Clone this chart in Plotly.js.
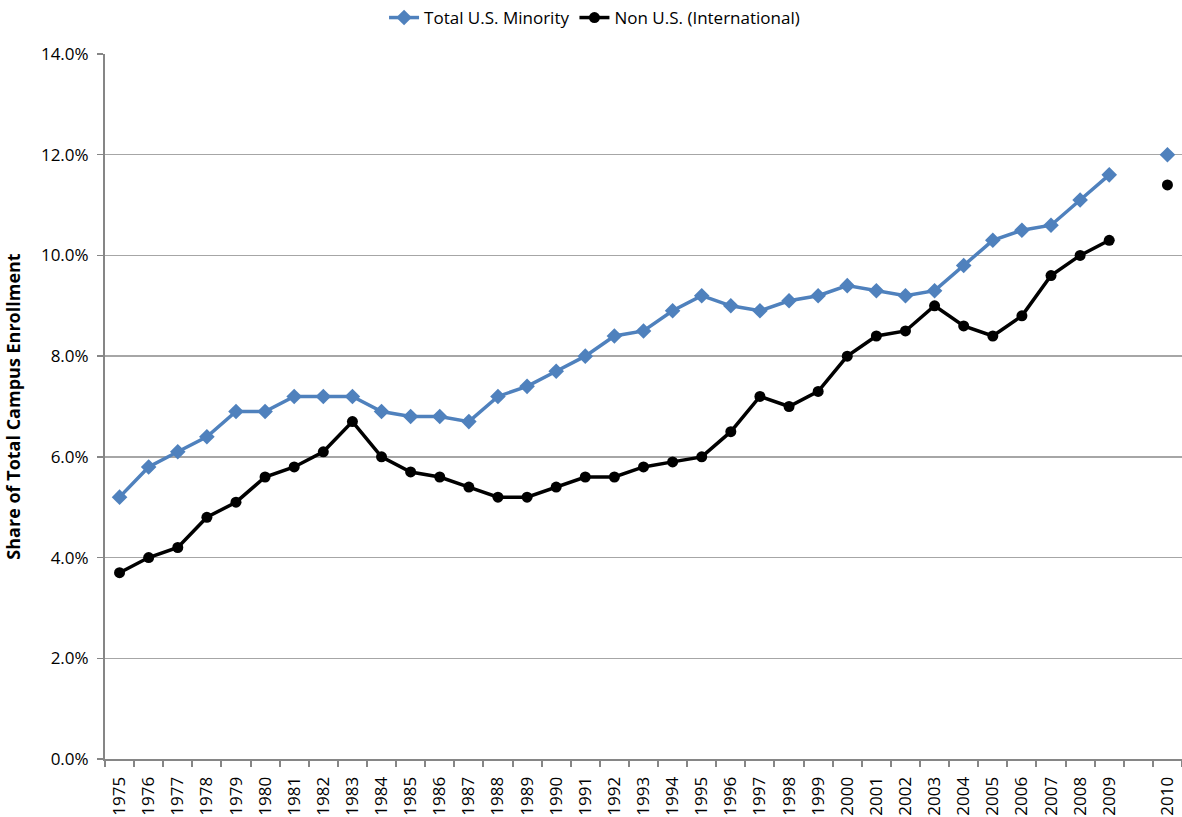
<!DOCTYPE html>
<html>
<head>
<meta charset="utf-8">
<script src="https://cdn.plot.ly/plotly-3.0.1.min.js"></script>
<style>html,body{margin:0;padding:0;background:#fff;}#chart{width:1182px;height:817px;}</style>
</head>
<body>
<div id="chart"></div>
<script>
// Category labels (blank slot between 2009 and 2010 as in the original)
var categories = ['1975','1976','1977','1978','1979','1980','1981','1982','1983','1984','1985','1986','1987','1988','1989','1990','1991','1992','1993','1994','1995','1996','1997','1998','1999','2000','2001','2002','2003','2004','2005','2006','2007','2008','2009','','2010'];
// Series values in percent (null = gap)
var minority = [5.2,5.8,6.1,6.4,6.9,6.9,7.2,7.2,7.2,6.9,6.8,6.8,6.7,7.2,7.4,7.7,8.0,8.4,8.5,8.9,9.2,9.0,8.9,9.1,9.2,9.4,9.3,9.2,9.3,9.8,10.3,10.5,10.6,11.1,11.6,null,12.0];
var international = [3.7,4.0,4.2,4.8,5.1,5.6,5.8,6.1,6.7,6.0,5.7,5.6,5.4,5.2,5.2,5.4,5.6,5.6,5.8,5.9,6.0,6.5,7.2,7.0,7.3,8.0,8.4,8.5,9.0,8.6,8.4,8.8,9.6,10.0,10.3,null,11.4];
var yTicks = [0,2,4,6,8,10,12,14];

var idx = categories.map(function(c,i){return i;});
var fnt = 'Open Sans, Lato, sans-serif';

var traces = [
  {x: idx, y: minority, name: 'Total U.S. Minority', type: 'scatter', mode: 'lines+markers',
   connectgaps: false, line: {color: '#4f81bd', width: 3.5},
   marker: {symbol: 'diamond', size: 12, color: '#4f81bd'}},
  {x: idx, y: international, name: 'Non U.S. (International)', type: 'scatter', mode: 'lines+markers',
   connectgaps: false, line: {color: '#000000', width: 3.5},
   marker: {symbol: 'circle', size: 11, color: '#000000'}}
];

var layout = {
  width: 1182, height: 817,
  margin: {l: 105, r: 0, t: 54, b: 58},
  paper_bgcolor: '#ffffff', plot_bgcolor: '#ffffff',
  showlegend: true,
  legend: {orientation: 'h', x: 0.503, xanchor: 'center', xref: 'container', y: 1.0, yanchor: 'top', yref: 'container',
           font: {family: fnt, size: 17, color: '#000'}, traceorder: 'normal'},
  xaxis: {
    range: [-0.5, 36.5], tickmode: 'array', tickvals: idx, ticktext: categories,
    tickangle: -90, ticks: '', showgrid: false, zeroline: false,
    showline: true, linecolor: '#868686', linewidth: 2,
    ticklabelstandoff: 9,
    tickfont: {family: fnt, size: 17, color: '#000'},
    minor: {tick0: 0.5, dtick: 1, ticks: 'outside', ticklen: 6, tickcolor: '#868686', tickwidth: 2, showgrid: false}
  },
  yaxis: {
    range: [0, 14], tickmode: 'array', tickvals: yTicks,
    ticktext: yTicks.map(function(v){return v.toFixed(1)+'%';}),
    ticks: 'outside', ticklen: 6, tickcolor: '#868686', tickwidth: 1.5,
    ticklabelstandoff: 5,
    showgrid: true, gridcolor: '#a6a6a6', gridwidth: 1.3, zeroline: false,
    showline: true, linecolor: '#868686', linewidth: 2,
    tickfont: {family: fnt, size: 17, color: '#000'},
    title: {text: '<b>Share of Total Campus Enrollment</b>', font: {family: fnt, size: 18, color: '#000'}, standoff: 16}
  }
};

Plotly.newPlot('chart', traces, layout, {displayModeBar: false, staticPlot: true});
</script>
</body>
</html>
